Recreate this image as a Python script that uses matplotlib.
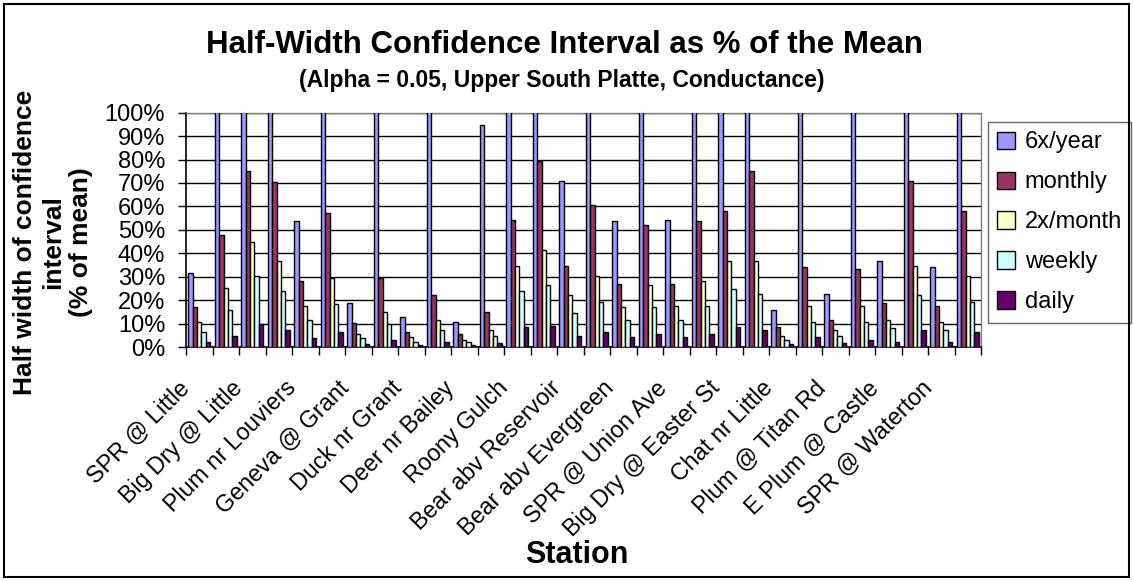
import numpy as np
import matplotlib.pyplot as plt
from matplotlib.patches import Rectangle
from matplotlib.transforms import ScaledTranslation

plt.rcParams['font.family'] = ['Liberation Sans', 'DejaVu Sans']

# 30 stations, only every other one gets a label on the axis
station_labels = ["SPR @ Little", "Big Dry @ Little", "Plum nr Louviers", "Geneva @ Grant",
                  "Duck nr Grant", "Deer nr Bailey", "Roony Gulch", "Bear abv Reservoir",
                  "Bear abv Evergreen", "SPR @ Union Ave", "Big Dry @ Easter St", "Chat nr Little",
                  "Plum @ Titan Rd", "E Plum @ Castle", "SPR @ Waterton"]

series_names = ["6x/year", "monthly", "2x/month", "weekly", "daily"]

# values above 100% are cut off by the axis
six_per_year = [31.4, 120, 120, 120, 53.6, 120, 18.6, 120, 12.6, 120,
                10.7, 94.7, 120, 120, 70.7, 120, 53.6, 120, 54.4, 120,
                120, 120, 16.0, 120, 22.7, 120, 36.6, 120, 34.0, 120]
monthly = [16.9, 47.7, 75.0, 70.6, 28.0, 57.1, 10.1, 29.6, 6.4, 22.1,
           5.6, 15.0, 54.4, 79.3, 34.6, 60.6, 27.0, 52.0, 27.0, 53.6,
           58.0, 75.0, 8.4, 34.0, 11.7, 33.1, 18.6, 70.7, 17.7, 58.0]
twice_month = [10.7, 25.3, 45.0, 36.6, 17.6, 29.6, 5.6, 15.0, 4.1, 11.7,
               3.0, 7.1, 34.6, 41.6, 22.0, 30.4, 16.9, 26.3, 17.7, 28.0,
               36.6, 36.6, 4.9, 17.7, 7.3, 17.7, 11.7, 34.6, 10.7, 30.4]
weekly = [6.4, 16.0, 30.4, 23.7, 11.7, 18.4, 4.0, 10.0, 2.3, 7.4,
          2.1, 4.7, 23.7, 26.3, 14.3, 19.3, 11.7, 16.9, 11.7, 17.7,
          24.6, 22.7, 3.1, 10.7, 4.9, 10.7, 8.3, 22.0, 7.3, 19.3]
daily = [2.1, 4.9, 10.0, 7.4, 4.0, 6.6, 1.4, 3.1, 0.7, 2.3,
         0.9, 1.6, 8.4, 9.0, 4.9, 6.4, 4.1, 5.6, 4.1, 5.6,
         8.4, 7.4, 1.4, 4.1, 1.6, 3.1, 2.3, 7.4, 2.3, 6.6]

colors = ["#9999FF", "#993366", "#FFFFCC", "#CCFFFF", "#660066"]

W, H = 1133, 581
fig = plt.figure(figsize=(W / 100, H / 100), dpi=100)
ax = fig.add_axes([186 / W, 1 - 347 / H, (981 - 186) / W, (347 - 112.7) / H])

x = np.arange(len(monthly))
bw = 0.166
for k, (vals, name, c) in enumerate(zip([six_per_year, monthly, twice_month, weekly, daily],
                                        series_names, colors)):
    ax.bar(x + (k - 2) * bw, vals, bw, color=c, edgecolor='black', linewidth=1.0,
           label=name, zorder=3)

ax.set_xlim(-0.5, len(x) - 0.5)
ax.set_ylim(0, 100)
ax.set_yticks(np.arange(0, 101, 10))
ax.set_yticklabels([f"{v}%" for v in range(0, 101, 10)])
ax.yaxis.grid(True, color='black', linewidth=1.0, zorder=0)

# tick marks between groups, labels on every other group
ax.set_xticks(np.arange(-0.5, len(x), 1.0))
ax.set_xticklabels([])
ax.set_xticks(x[::2], minor=True)
ax.set_xticklabels(station_labels, minor=True, rotation=45, ha='right',
                   va='center', rotation_mode='anchor')
ax.tick_params(axis='x', which='minor', length=0, pad=27, labelsize=16.8)
ax.tick_params(axis='x', which='major', length=6, width=1, direction='out')
ax.tick_params(axis='y', length=6, width=1, direction='out', labelsize=17, pad=9)
for lab in ax.get_xticklabels(minor=True):
    lab.set_transform(lab.get_transform() + ScaledTranslation(-0.13, 0, fig.dpi_scale_trans))

for s in ['left', 'bottom']:
    ax.spines[s].set_color('black')
    ax.spines[s].set_linewidth(1.2)
for s in ['top', 'right']:
    ax.spines[s].set_color('#808080')
    ax.spines[s].set_linewidth(1.0)

fig.text(0.498, 1 - 45 / H, "Half-Width Confidence Interval as % of the Mean",
         ha='center', va='center', fontsize=22.5, fontweight='bold')
fig.text(0.496, 1 - 81 / H, "(Alpha = 0.05, Upper South Platte, Conductance)",
         ha='center', va='center', fontsize=16.5, fontweight='bold')
fig.text(53 / W, 1 - 242 / H, "Half width of confidence\ninterval\n(% of mean)",
         rotation=90, ha='center', va='center', multialignment='center',
         fontsize=19, fontweight='bold', linespacing=1.2)
fig.text(577 / W, 1 - 555 / H, "Station", ha='center', va='center',
         fontsize=22, fontweight='bold')

leg = ax.legend(loc='upper left', bbox_to_anchor=(988 / W, 1 - 122 / H),
                bbox_transform=fig.transFigure, fontsize=17, frameon=True,
                fancybox=False, borderaxespad=0, borderpad=0.4,
                handlelength=0.75, handleheight=0.75, handletextpad=0.4,
                labelspacing=0.76)
leg.get_frame().set_edgecolor('#404040')
leg.get_frame().set_linewidth(1.0)

fig.patches.append(Rectangle((4 / W, 4 / H), 1 - 8 / W, 1 - 8 / H, fill=False,
                             edgecolor='black', linewidth=1.5,
                             transform=fig.transFigure, figure=fig))

fig.savefig("out.png", dpi=100)
